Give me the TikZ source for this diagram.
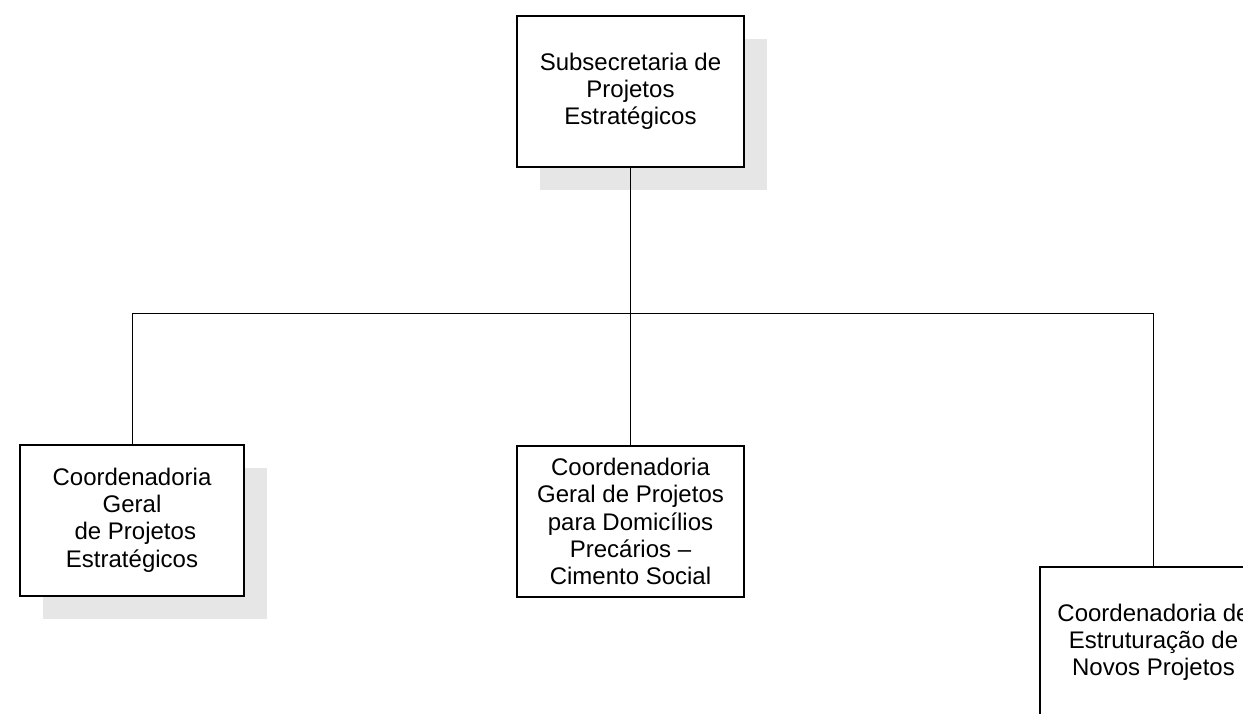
\documentclass[tikz,border=0pt]{standalone}
\usepackage{fontspec}
\setmainfont{Liberation Sans}
\usetikzlibrary{shadows}
\definecolor{shadowgray}{HTML}{E6E6E6}
\tikzset{
  orgbox/.style={draw=black, line width=1pt, fill=white, minimum width=113.5pt, minimum height=75.5pt,
    align=center, inner sep=2pt, font=\fontsize{12pt}{13.6pt}\selectfont},
  shadowed/.style={general shadow={fill=shadowgray, draw=none, shadow xshift=11.5pt, shadow yshift=-11.5pt}},
  link/.style={draw=black, line width=0.5pt}
}
\begin{document}
\begin{tikzpicture}[x=0.5pt, y=-0.5pt]
\useasboundingbox (0,0) rectangle (1243,713);
\node[orgbox, shadowed] (top) at (630.5,91.5) {Subsecretaria de\\Projetos\\Estratégicos};
\node[orgbox, shadowed, minimum width=112pt] (left) at (132,520) {Coordenadoria\\Geral\\\ de Projetos\\Estratégicos};
\node[orgbox] (mid) at (630.5,521.5) {Coordenadoria\\Geral de Projetos\\para Domicílios\\Precários –\\Cimento Social};
\node[orgbox, shadowed] (right) at (1153.5,642) {Coordenadoria de\\Estruturação de\\Novos Projetos};
\coordinate (bus) at (630.5,313);
\draw[link] (top.south) -- (bus) -| (left.north);
\draw[link] (bus) -- (mid.north);
\draw[link] (bus) -| (right.north);
\end{tikzpicture}
\end{document}
